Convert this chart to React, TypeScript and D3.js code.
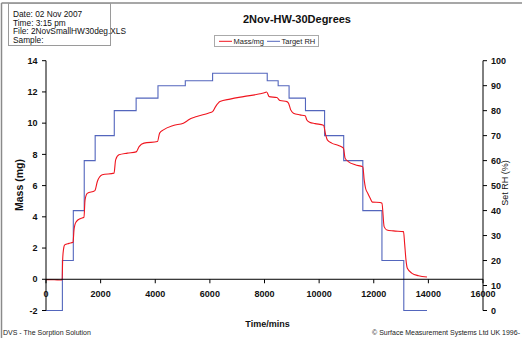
import React from "react";
import * as d3 from "d3";

const massTime = [0, 300, 590, 610, 640, 685, 840, 990, 1025, 1060, 1110, 1270, 1390, 1430, 1510, 1790, 1880, 2060, 2490, 2550, 2670, 2980, 3300, 3410, 3590, 4080, 4160, 4300, 4660, 5030, 5150, 5210, 5520, 5940, 6100, 6210, 6370, 6740, 7230, 7840, 8020, 8080, 8170, 8450, 8570, 8820, 8880, 8960, 9060, 9300, 9490, 9550, 9650, 9850, 10160, 10240, 10300, 10460, 10710, 10890, 10950, 11070, 11320, 11600, 11650, 11700, 11780, 11870, 11950, 12230, 12300, 12380, 12480, 12720, 13090, 13130, 13180, 13230, 13400, 13640, 13950];
const massValues = [-0.02, -0.03, -0.05, 1.24, 1.9, 2.2, 2.3, 2.37, 3.16, 3.5, 3.69, 3.9, 3.97, 5.08, 5.5, 5.68, 6.26, 6.69, 6.8, 7.65, 7.97, 8.08, 8.16, 8.5, 8.72, 8.82, 9.36, 9.57, 9.85, 10.0, 10.12, 10.2, 10.42, 10.64, 10.74, 11.06, 11.38, 11.54, 11.7, 11.88, 11.96, 12.0, 11.7, 11.64, 11.45, 11.38, 11.28, 10.85, 10.64, 10.53, 10.47, 10.2, 10.06, 9.97, 9.87, 9.25, 8.93, 8.72, 8.57, 8.4, 7.76, 7.54, 7.33, 7.2, 6.37, 5.83, 5.51, 5.19, 4.94, 4.92, 4.87, 3.37, 3.16, 3.1, 3.05, 2.3, 1.24, 0.7, 0.38, 0.23, 0.15];

const rhTime = [0, 600, 1000, 1400, 1800, 2500, 3300, 4100, 5100, 6100, 8100, 8500, 8900, 9500, 10200, 10900, 11600, 12300, 13100, 13950];
const rhValues = [0, 20, 40, 60, 70, 80, 85, 90, 92, 95, 92, 90, 85, 80, 70, 60, 40, 20, 0, 0];

const xTicks = [0, 2000, 4000, 6000, 8000, 10000, 12000, 14000, 16000];
const massTicks = [-2, 0, 2, 4, 6, 8, 10, 12, 14];
const rhTicks = [0, 10, 20, 30, 40, 50, 60, 70, 80, 90, 100];

const infoLines = ["Date:  02 Nov 2007", "Time:  3:15 pm", "File:  2NovSmallHW30deg.XLS", "Sample:"];
const title = "2Nov-HW-30Degrees";
const seriesNames = ["Mass/mg", "Target RH"];

const FONT = "'Liberation Sans', Arial, sans-serif";
const RED = "#f0141e";
const BLUE = "#5366bd";

export default function App() {
  const x = d3.scaleLinear().domain([0, 16000]).range([46, 483]);
  const yL = d3.scaleLinear().domain([-2, 14]).range([310.5, 60.7]);
  const yR = d3.scaleLinear().domain([0, 100]).range([310.5, 60.7]);

  const massPts = massTime.map((t, i) => [t, massValues[i]] as [number, number]);
  const rhPts = rhTime.map((t, i) => [t, rhValues[i]] as [number, number]);

  const massLine = d3
    .line<[number, number]>()
    .x((d) => x(d[0]))
    .y((d) => yL(d[1]))
    .curve(d3.curveMonotoneX);
  const rhLine = d3
    .line<[number, number]>()
    .x((d) => x(d[0]))
    .y((d) => yR(d[1]))
    .curve(d3.curveStepAfter);

  const [x0, x1] = x.range();
  const [yb, yt] = yL.range();
  const y0 = yL(0);

  return (
    <svg
      width={522}
      height={338}
      style={{ position: "absolute", left: 0, top: 0, background: "#fff" }}
      fontFamily={FONT}
    >
      {/* outer frame */}
      <line x1={1.5} y1={3} x2={1.5} y2={338} stroke="#8a8a8a" strokeWidth={1.5} />
      <line x1={1.5} y1={3} x2={522} y2={3} stroke="#8a8a8a" strokeWidth={1.5} />

      {/* info box */}
      <rect x={8.5} y={3.5} width={102} height={42} fill="#fff" stroke="#9a9a9a" strokeWidth={1} />
      {infoLines.map((s, i) => (
        <text key={s} x={13} y={17 + i * 8.5} fontSize={8.3} fill="#111">
          {s}
        </text>
      ))}

      {/* title */}
      <text x={297} y={22.5} fontSize={11} fontWeight="bold" textAnchor="middle" fill="#111">
        {title}
      </text>

      {/* legend */}
      <rect x={214.5} y={35.5} width={104} height={11} fill="#fff" stroke="#aaa" strokeWidth={1} />
      <line x1={219} y1={41.3} x2={232} y2={41.3} stroke={RED} strokeWidth={1} />
      <text x={233.5} y={44} fontSize={7.5} fill="#222">
        {seriesNames[0]}
      </text>
      <line x1={267} y1={41.3} x2={280} y2={41.3} stroke={BLUE} strokeWidth={1} />
      <text x={281.5} y={44} fontSize={7.5} fill="#222">
        {seriesNames[1]}
      </text>

      {/* data */}
      <path d={rhLine(rhPts) || ""} fill="none" stroke={BLUE} strokeWidth={1.1} />
      <path d={massLine(massPts) || ""} fill="none" stroke={RED} strokeWidth={1.1} />

      {/* axes */}
      <line x1={x0} y1={yb} x2={x0} y2={yt} stroke="#000" strokeWidth={1} />
      <line x1={x1} y1={yb} x2={x1} y2={yt} stroke="#000" strokeWidth={1} />
      <line x1={x0} y1={y0} x2={x1} y2={y0} stroke="#000" strokeWidth={1} />

      {xTicks.map((t) => (
        <g key={"x" + t}>
          <line x1={x(t)} x2={x(t)} y1={y0} y2={y0 + 4} stroke="#000" />
          <text x={x(t)} y={297} fontSize={9} fontWeight="bold" textAnchor="middle" fill="#111">
            {t}
          </text>
        </g>
      ))}
      {massTicks.map((t) => (
        <g key={"l" + t}>
          <line x1={x0 - 4} x2={x0} y1={yL(t)} y2={yL(t)} stroke="#000" />
          <text x={37.5} y={yL(t) + 3.2} fontSize={9} fontWeight="bold" textAnchor="end" fill="#111">
            {t}
          </text>
        </g>
      ))}
      {rhTicks.map((t) => (
        <g key={"r" + t}>
          <line x1={x1} x2={x1 + 4} y1={yR(t)} y2={yR(t)} stroke="#000" />
          <text x={491} y={yR(t) + 3.2} fontSize={9} fontWeight="bold" textAnchor="start" fill="#111">
            {t}
          </text>
        </g>
      ))}

      {/* axis titles */}
      <text x={267.5} y={327} fontSize={9} fontWeight="bold" textAnchor="middle" fill="#111">
        Time/mins
      </text>
      <text
        transform="translate(23,185) rotate(-90)"
        fontSize={10.5}
        fontWeight="bold"
        textAnchor="middle"
        fill="#111"
      >
        Mass (mg)
      </text>
      <text
        transform="translate(508,183) rotate(-90)"
        fontSize={9}
        textAnchor="middle"
        fill="#111"
      >
        Set RH (%)
      </text>

      {/* footer */}
      <text x={3} y={335} fontSize={7} fill="#222">
        DVS - The Sorption Solution
      </text>
      <text x={520} y={335} fontSize={7} textAnchor="end" fill="#222">
        © Surface Measurement Systems Ltd UK 1996-
      </text>
    </svg>
  );
}
